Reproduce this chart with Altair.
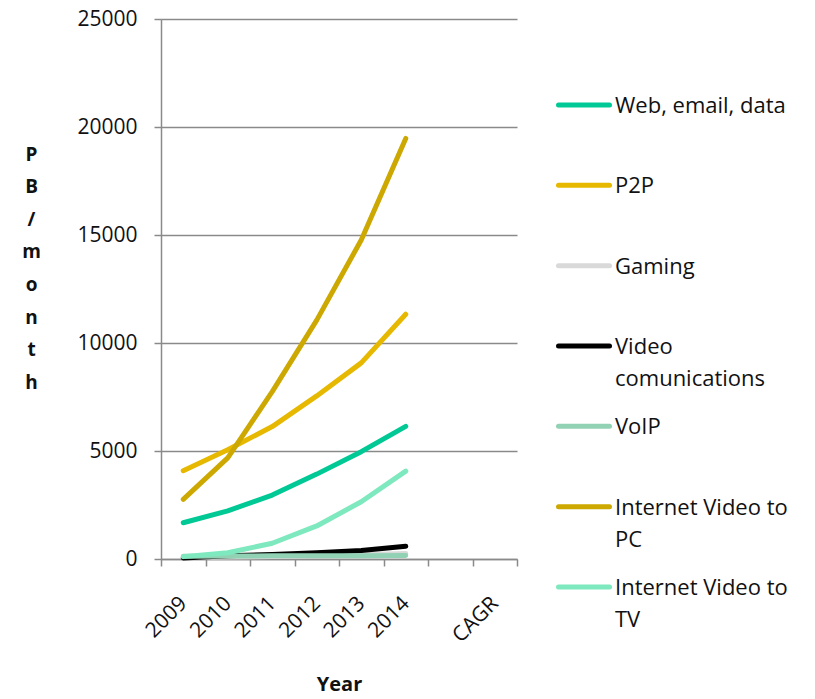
import altair as alt
import pandas as pd

# Categories on the x axis (the blank slot and CAGR carry no data)
years = ["2009", "2010", "2011", "2012", "2013", "2014"]
categories = years + [" ", "CAGR"]

series = [
    "Web, email, data",
    "P2P",
    "Gaming",
    "Video comunications",
    "VoIP",
    "Internet Video to PC",
    "Internet Video to TV",
]
legend_labels = [
    "Web, email, data",
    "P2P",
    "Gaming",
    "Video\ncomunications",
    "VoIP",
    "Internet Video to\nPC",
    "Internet Video to\nTV",
]
colors = ["#00C996", "#E6B800", "#D9D9D9", "#000000", "#92D2B4", "#CDA800", "#7EE8BE"]

# Traffic in PB/month
web = [1680, 2230, 2960, 3930, 4970, 6140]
p2p = [4090, 5060, 6130, 7550, 9080, 11330]
gaming = [60, 90, 120, 160, 200, 250]
video = [50, 150, 210, 290, 390, 590]
voip = [130, 140, 145, 150, 155, 160]
video_pc = [2760, 4680, 7750, 11060, 14770, 19470]
video_tv = [110, 290, 730, 1530, 2650, 4070]

values = [web, p2p, gaming, video, voip, video_pc, video_tv]

rows = []
for name, vals in zip(series, values):
    for yr, v in zip(years, vals):
        rows.append({"series": name, "year": yr, "value": v})
df = pd.DataFrame(rows)

FONT = "Open Sans"
GRAY = "#8A8A8A"
INK = "#111111"

x_enc = alt.X(
    "year:N",
    bandPosition=0.5,
    scale=alt.Scale(type="band", domain=categories, paddingInner=0, paddingOuter=0),
    axis=alt.Axis(
        title="Year",
        titleFont=FONT,
        titleFontSize=20,
        titleFontWeight="bold",
        titleColor=INK,
        titleBaseline="alphabetic",
        titleY=131,
        labelAngle=-45,
        labelAlign="right",
        labelBaseline="middle",
        labelPadding=34,
        labelFont=FONT,
        labelFontSize=21,
        labelColor=INK,
        labelOverlap=False,
        tickBand="extent",
        tickSize=7,
        tickColor=GRAY,
        tickWidth=1.5,
        domainColor=GRAY,
        domainWidth=1.5,
        grid=False,
    ),
)

y_enc = alt.Y(
    "value:Q",
    scale=alt.Scale(domain=[0, 25000], nice=False),
    axis=alt.Axis(
        values=[0, 5000, 10000, 15000, 20000, 25000],
        format="d",
        title=["P", "B", "/", "m", "o", "n", "t", "h"],
        titleAngle=0,
        titleAlign="center",
        titleBaseline="alphabetic",
        titleX=-130,
        titleY=141,
        titleLineHeight=32.6,
        titleFont=FONT,
        titleFontSize=19,
        titleFontWeight="bold",
        titleColor=INK,
        labelFont=FONT,
        labelFontSize=21,
        labelColor=INK,
        labelPadding=17,
        tickSize=7,
        tickColor=GRAY,
        tickWidth=1.5,
        domainColor=GRAY,
        domainWidth=1.5,
        grid=True,
        gridColor=GRAY,
        gridWidth=1.5,
    ),
)

color_enc = alt.Color(
    "series:N", scale=alt.Scale(domain=series, range=colors), legend=None
)

# One layer per series so later series are drawn on top
line_layers = [
    alt.Chart(df)
    .transform_filter(alt.datum.series == name)
    .mark_line(strokeWidth=5, strokeCap="round", strokeJoin="round")
    .encode(x=x_enc, y=y_enc, color=color_enc)
    for name in series
]
main = alt.layer(*line_layers).properties(width=356, height=540)

# Legend column at the right
leg_df = pd.DataFrame({"series": series, "label": legend_labels})
leg_y = alt.Y(
    "series:N",
    scale=alt.Scale(type="point", domain=series, range=[86, 568], padding=0),
    axis=None,
)
leg_symbols = alt.Chart(leg_df).mark_rule(strokeWidth=5, strokeCap="round").encode(
    y=leg_y, x=alt.value(41.5), x2=alt.value(92.5), color=color_enc
)
leg_text = alt.Chart(leg_df).mark_text(
    align="left",
    baseline="alphabetic",
    dy=8,
    lineBreak="\n",
    lineHeight=32,
    font=FONT,
    fontSize=22,
    color=INK,
).encode(y=leg_y, x=alt.value(98), text="label:N")
legend = alt.layer(leg_symbols, leg_text).properties(width=290, height=540)

chart = (
    alt.hconcat(main, legend, spacing=0, bounds="flush")
    .properties(
        padding={"left": 21, "top": 8, "right": 0, "bottom": 4},
        background="white",
    )
    .configure_view(stroke=None)
)

chart.save("out.html", embed_options={"renderer": "svg", "actions": False})
